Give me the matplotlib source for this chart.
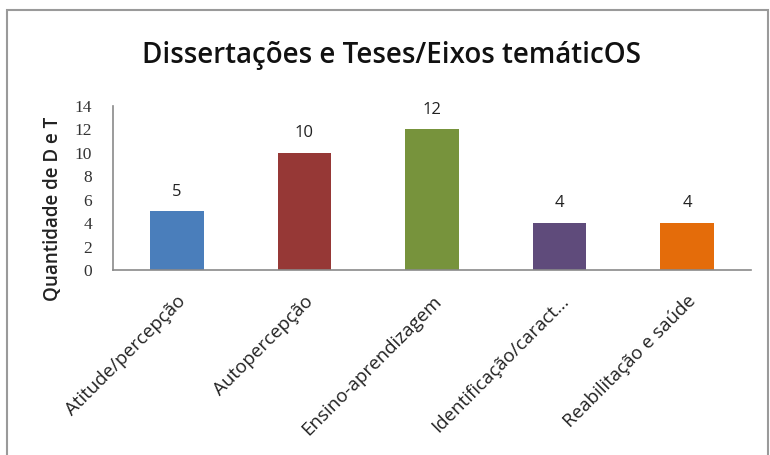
import matplotlib
matplotlib.use("Agg")
import matplotlib.pyplot as plt
from matplotlib.patches import Rectangle

# --- DATA ---
categories = ["Atitude/percepção", "Autopercepção", "Ensino-aprendizagem",
              "Identificação/caract...", "Reabilitação e saúde"]
values = [5, 10, 12, 4, 4]
colors = ["#4A7EBB", "#963836", "#77933C", "#5F4B7B", "#E46C0A"]
yticks = [0, 2, 4, 6, 8, 10, 12, 14]

W, H = 770, 455
fig = plt.figure(figsize=(W / 100, H / 100), dpi=100)

# outer chart frame
fig.patches.append(Rectangle((7 / W, -0.02), 761 / W, 1.02 - 10 / H,
                             transform=fig.transFigure, fill=False,
                             edgecolor="#9a9a9a", lw=1.5))

ax = fig.add_axes([113 / W, 1 - 270 / H, 638 / W, 164 / H])
x = list(range(len(categories)))
ax.bar(x, values, width=0.42, color=colors)

for xi, v in zip(x, values):
    ax.text(xi, v + 1.0, str(v), ha="center", va="bottom",
            family="Open Sans", fontsize=12, color="#222222")

ax.set_xlim(-0.5, len(categories) - 0.5)
ax.set_ylim(0, 14)
ax.set_yticks(yticks)
ax.set_yticklabels([str(t) for t in yticks], family="Liberation Serif",
                   fontsize=12.5, color="#333333")
ax.tick_params(axis="y", length=0, pad=15)
ax.set_xticks(x)
ax.set_xticklabels(categories, rotation=45, ha="right", rotation_mode="anchor",
                   family="Open Sans", fontsize=13.5, color="#222222")
ax.tick_params(axis="x", length=0, pad=16)

for s in ["top", "right"]:
    ax.spines[s].set_visible(False)
for s in ["left", "bottom"]:
    ax.spines[s].set_color("#8a8a8a")
    ax.spines[s].set_linewidth(1.2)

fig.text(53 / W, 1 - 209 / H, "Quantidade de D e T", rotation=90,
         ha="center", va="center", family="Open Sans", fontweight="semibold",
         fontsize=13.5, color="#222222")

fig.text(392 / W, 1 - 55 / H, "Dissertações e Teses/Eixos temáticOS",
         ha="center", va="center", family="Open Sans", fontweight="semibold",
         fontsize=20, color="#111111")

fig.savefig("out.png", dpi=100)
